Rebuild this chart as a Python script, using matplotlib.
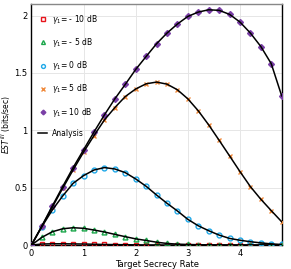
import matplotlib
matplotlib.use('Agg')
import matplotlib.pyplot as plt
import numpy as np

# target secrecy rate, steps of 0.2
rate = [0.0, 0.2, 0.4, 0.6, 0.8, 1.0, 1.2, 1.4, 1.6, 1.8, 2.0, 2.2, 2.4,
        2.6, 2.8, 3.0, 3.2, 3.4, 3.6, 3.8, 4.0, 4.2, 4.4, 4.6, 4.8]

est_m10 = [0.0, 0.009, 0.011, 0.011, 0.010, 0.009, 0.007, 0.005, 0.004, 0.003,
           0.002, 0.001, 0.001, 0.0, 0.0, 0.0, 0.0, 0.0, 0.0, 0.0, 0.0, 0.0,
           0.0, 0.0, 0.0]
est_m5 = [0.0, 0.067, 0.116, 0.142, 0.151, 0.146, 0.131, 0.114, 0.093, 0.073,
          0.054, 0.040, 0.025, 0.014, 0.008, 0.005, 0.003, 0.002, 0.001, 0.001,
          0.0, 0.0, 0.0, 0.0, 0.0]
est_0 = [0.0, 0.16, 0.305, 0.428, 0.538, 0.605, 0.654, 0.675, 0.663, 0.631,
         0.576, 0.512, 0.436, 0.364, 0.297, 0.224, 0.168, 0.125, 0.087, 0.058,
         0.042, 0.029, 0.019, 0.010, 0.005]
est_5 = [0.0, 0.163, 0.33, 0.495, 0.655, 0.81, 0.954, 1.09, 1.198, 1.294,
         1.36, 1.405, 1.42, 1.402, 1.353, 1.274, 1.17, 1.047, 0.913, 0.777,
         0.64, 0.509, 0.399, 0.30, 0.203]
est_10 = [0.0, 0.166, 0.34, 0.51, 0.675, 0.83, 0.985, 1.134, 1.274, 1.40,
          1.53, 1.643, 1.754, 1.847, 1.926, 1.992, 2.03, 2.05, 2.045, 2.01,
          1.943, 1.847, 1.73, 1.58, 1.30]

series = [
    (est_m10, r'$\gamma_1$= - 10 dB', 's', '#e8141c', 'none'),
    (est_m5, r'$\gamma_1$= - 5 dB', '^', '#1aa64a', 'none'),
    (est_0, r'$\gamma_1$= 0 dB', 'o', '#1fa8e8', 'none'),
    (est_5, r'$\gamma_1$= 5 dB', 'x', '#f08a3c', None),
    (est_10, r'$\gamma_1$= 10 dB', 'D', '#7a3fa6', '#7a3fa6'),
]

fig = plt.figure(figsize=(2.91, 2.69), dpi=100)
ax = fig.add_axes([0.108, 0.089, 0.860, 0.896])

for vals, lab, mk, col, fc in series:
    if mk == 'x':
        ax.plot(rate, vals, linestyle='none', marker=mk, color=col,
                markersize=3.5, markeredgewidth=1.0, label=lab, zorder=3)
    else:
        ax.plot(rate, vals, linestyle='none', marker=mk, markeredgecolor=col,
                markerfacecolor=fc, markersize=3.5 if mk != 'D' else 3,
                markeredgewidth=1.0, label=lab, zorder=3)

for i, (vals, lab, mk, col, fc) in enumerate(series):
    ax.plot(rate, vals, color='black', linewidth=1.1, zorder=4,
            label='Analysis' if i == 0 else None)

ax.set_xlim(0, 4.8)
ax.set_ylim(0, 2.1)
ax.set_xticks([0, 1, 2, 3, 4])
ax.set_yticks([0, 0.5, 1, 1.5, 2])
ax.set_yticklabels(['0', '0.5', '1', '1.5', '2'])
ax.tick_params(labelsize=6, length=0, pad=3)
ax.grid(color='#e6e6e6', linewidth=0.7)
ax.set_axisbelow(True)
for s in ax.spines.values():
    s.set_linewidth(1.0)
ax.spines['top'].set_color('#888888')

ax.set_xlabel('Target Secrecy Rate', fontsize=6, labelpad=1)
ax.set_ylabel(r'$EST^{III}$ (bits/sec)', fontsize=5.5)
ax.yaxis.set_label_coords(-0.075, 0.5)

handles, labels = ax.get_legend_handles_labels()
ax.legend(handles, labels, loc='upper left', frameon=False, fontsize=5.5,
          labelspacing=1.35, handlelength=1.3, handletextpad=0.6,
          borderaxespad=0.4, bbox_to_anchor=(0.0, 0.99), markerscale=0.8)

fig.savefig('out.png', dpi=100)
